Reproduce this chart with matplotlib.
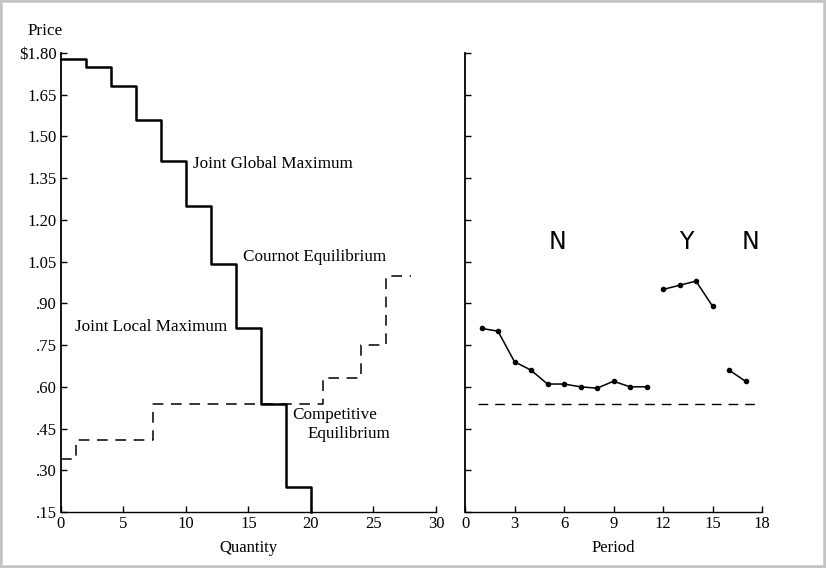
#!/usr/bin/env python3
"""
Demand/supply steps (left) and mean contract price by period (right).
"""
import matplotlib
matplotlib.use("Agg")
import matplotlib.pyplot as plt
from matplotlib.patches import Rectangle

# --- data ---
demand_q = [0, 2, 4, 6, 8, 10, 12, 14, 16, 18, 20]
demand_p = [1.78, 1.75, 1.68, 1.56, 1.41, 1.25, 1.04, 0.81, 0.54, 0.24, 0.24]

supply_q = [0, 1.2, 7.4, 21, 24, 26, 28]
supply_p = [0.34, 0.41, 0.54, 0.63, 0.75, 1.00, 1.00]

price_ticks = [1.80, 1.65, 1.50, 1.35, 1.20, 1.05, 0.90, 0.75, 0.60, 0.45, 0.30, 0.15]
price_labels = ["$1.80", "1.65", "1.50", "1.35", "1.20", "1.05",
                ".90", ".75", ".60", ".45", ".30", ".15"]

period_n1 = [1, 2, 3, 4, 5, 6, 7, 8, 9, 10, 11]
price_n1 = [0.81, 0.80, 0.69, 0.66, 0.61, 0.61, 0.60, 0.595, 0.62, 0.60, 0.60]
period_y = [12, 13, 14, 15]
price_y = [0.95, 0.965, 0.98, 0.89]
period_n2 = [16, 17]
price_n2 = [0.66, 0.62]

competitive_price = 0.54
competitive_span = [0.8, 17.6]

plt.rcParams["font.family"] = ["Liberation Serif", "DejaVu Serif"]

fig = plt.figure(figsize=(8.26, 5.68), dpi=100)
fig.patches.append(Rectangle((0, 0), 1, 1, transform=fig.transFigure,
                             fill=False, edgecolor="#c4c4c4", linewidth=4))

ax1 = fig.add_axes([61 / 826, 56 / 568, 375 / 826, 459 / 568])
ax2 = fig.add_axes([465 / 826, 56 / 568, 297 / 826, 459 / 568])

for ax in (ax1, ax2):
    ax.set_ylim(0.15, 1.80)
    ax.set_yticks(price_ticks)
    ax.spines["top"].set_visible(False)
    ax.spines["right"].set_visible(False)
    ax.spines["left"].set_linewidth(1.3)
    ax.spines["bottom"].set_linewidth(1.0)
    ax.tick_params(direction="in", length=4, width=1, labelsize=12, pad=3)

# left panel
ax1.step(demand_q + [20], demand_p + [0.15], where="post", color="black",
         linewidth=1.8, clip_on=False)
ax1.step(supply_q, supply_p, where="post", color="black", linewidth=1.1,
         dashes=(7, 5), clip_on=False)
ax1.set_xlim(0, 30)
ax1.set_xticks([0, 5, 10, 15, 20, 25, 30])
ax1.set_yticklabels(price_labels)
ax1.set_xlabel("Quantity", fontsize=12, labelpad=6)

ax1.text(10.6, 1.40, "Joint Global Maximum", fontsize=12.3, va="center")
ax1.text(14.6, 1.065, "Cournot Equilibrium", fontsize=12.3, va="center")
ax1.text(1.1, 0.815, "Joint Local Maximum", fontsize=12.3, va="center")
ax1.text(18.5, 0.50, "Competitive", fontsize=12.3, va="center")
ax1.text(19.7, 0.43, "Equilibrium", fontsize=12.3, va="center")

fig.text(28 / 826, 1 - 31 / 568, "Price", fontsize=12.3, va="center")

# right panel
for px, py in ((period_n1, price_n1), (period_y, price_y), (period_n2, price_n2)):
    ax2.plot(px, py, color="black", linewidth=1.1, marker="o", markersize=3)
ax2.plot(competitive_span, [competitive_price] * 2, color="black",
         linewidth=1.0, dashes=(7, 5))
ax2.set_xlim(0, 18)
ax2.set_xticks([0, 3, 6, 9, 12, 15, 18])
ax2.set_yticklabels([])
ax2.set_xlabel("Period", fontsize=12, labelpad=6)

for x, s in ((5.6, "N"), (13.4, "Y"), (17.3, "N")):
    ax2.text(x, 1.12, s, fontsize=17, ha="center", va="center",
             family=["DejaVu Sans"])

fig.savefig("out.png", dpi=100)
